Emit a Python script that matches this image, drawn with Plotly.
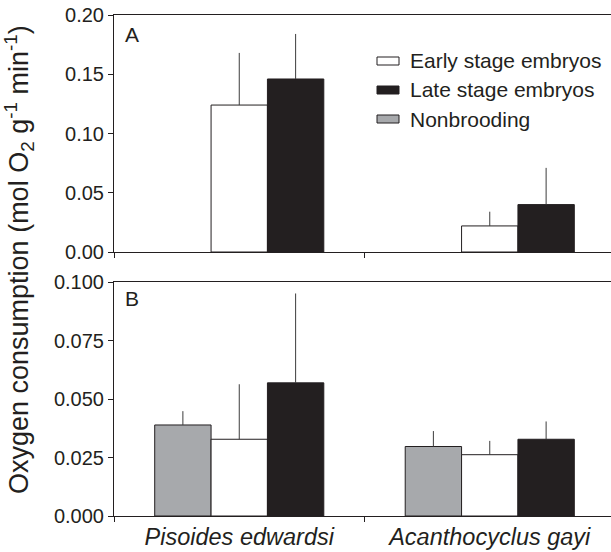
import plotly.graph_objects as go

species = ["Pisoides edwardsi", "Acanthocyclus gayi"]

# Panel A (brooding females)
a_early = [0.124, 0.022]
a_early_err = [0.044, 0.012]
a_late = [0.146, 0.040]
a_late_err = [0.038, 0.031]
a_nonbrood = [None, None]

# Panel B
b_nonbrood = [0.0389, 0.0297]
b_nonbrood_err = [0.0059, 0.0066]
b_early = [0.0328, 0.0262]
b_early_err = [0.0235, 0.0059]
b_late = [0.0569, 0.0328]
b_late_err = [0.0382, 0.0076]

legend_labels = ["Early stage embryos", "Late stage embryos", "Nonbrooding"]

INK = "#231f20"
GRAY = "#a7a9ac"
ERR = "#3c3c3c"
FONT = "Liberation Sans, Arial, Helvetica, sans-serif"

W, H = 611, 552
L, R, T, B = 114, 0, 15, 36
PW, PH = W - L - R, H - T - B


def px_x(p):
    return (p - L) / PW


def px_y(p):
    return (H - B - p) / PH


def err(vals):
    return dict(type="data", array=vals, arrayminus=[0] * len(vals), symmetric=False,
                color=ERR, thickness=1, width=0)


fig = go.Figure()
line = dict(color=INK, width=1)

# top panel
fig.add_trace(go.Bar(x=species, y=a_nonbrood, name="Nonbrooding", marker=dict(color=GRAY, line=line),
                     xaxis="x", yaxis="y", showlegend=False))
fig.add_trace(go.Bar(x=species, y=a_early, name="Early stage embryos", marker=dict(color="white", line=line),
                     error_y=err(a_early_err), xaxis="x", yaxis="y", showlegend=False))
fig.add_trace(go.Bar(x=species, y=a_late, name="Late stage embryos", marker=dict(color=INK, line=line),
                     error_y=err(a_late_err), xaxis="x", yaxis="y", showlegend=False))

# bottom panel
fig.add_trace(go.Bar(x=species, y=b_nonbrood, name="Nonbrooding", marker=dict(color=GRAY, line=line),
                     error_y=err(b_nonbrood_err), xaxis="x2", yaxis="y2", showlegend=False))
fig.add_trace(go.Bar(x=species, y=b_early, name="Early stage embryos", marker=dict(color="white", line=line),
                     error_y=err(b_early_err), xaxis="x2", yaxis="y2", showlegend=False))
fig.add_trace(go.Bar(x=species, y=b_late, name="Late stage embryos", marker=dict(color=INK, line=line),
                     error_y=err(b_late_err), xaxis="x2", yaxis="y2", showlegend=False))

xcommon = dict(range=[-0.5, 1.484], showline=True, linecolor=INK, linewidth=1, mirror=True,
               ticks="outside", tickson="boundaries", ticklen=5, tickcolor=INK,
               showgrid=False, zeroline=False)
ycommon = dict(showline=True, linecolor=INK, linewidth=1, ticks="outside", ticklen=5,
               tickcolor=INK, showgrid=False, zeroline=False,
               tickfont=dict(family=FONT, size=20, color=INK))

fig.update_layout(
    width=W, height=H,
    margin=dict(l=L, r=R, t=T, b=B),
    paper_bgcolor="white", plot_bgcolor="white",
    barmode="group", bargap=0.325, bargroupgap=0,
    font=dict(family=FONT, color=INK),
    showlegend=False,
    xaxis=dict(**xcommon, domain=[0, 1], anchor="y", showticklabels=False),
    yaxis=dict(**ycommon, domain=[px_y(252), 1.0], range=[0, 0.20],
               tickvals=[0, 0.05, 0.10, 0.15, 0.20], tickformat=".2f", anchor="x"),
    xaxis2=dict(**xcommon, domain=[0, 1], anchor="y2",
                tickfont=dict(family=FONT, size=23.5, color=INK),
                ticktext=["<i>" + s + "</i>" for s in species], tickvals=species),
    yaxis2=dict(**ycommon, domain=[0, px_y(282)], range=[0, 0.100],
                tickvals=[0, 0.025, 0.05, 0.075, 0.10], tickformat=".3f", anchor="x2"),
)

# custom legend (wide flat boxes like the reference)
legend_colors = ["white", INK, GRAY]
legend_rows = [61, 90, 119]
for lab, col, ry in zip(legend_labels, legend_colors, legend_rows):
    fig.add_shape(type="rect", xref="paper", yref="paper",
                  x0=px_x(377), x1=px_x(399), y0=px_y(ry + 4), y1=px_y(ry - 4),
                  fillcolor=col, line=dict(color=INK, width=1))
    fig.add_annotation(text=lab, xref="paper", yref="paper", x=px_x(408), y=px_y(ry),
                       xanchor="left", yanchor="middle", showarrow=False,
                       font=dict(family=FONT, size=21, color=INK))

# panel letters
fig.add_annotation(text="A", xref="paper", yref="paper", x=px_x(123), y=px_y(34),
                   xanchor="left", yanchor="middle", showarrow=False,
                   font=dict(family=FONT, size=21, color=INK))
fig.add_annotation(text="B", xref="paper", yref="paper", x=px_x(123), y=px_y(298),
                   xanchor="left", yanchor="middle", showarrow=False,
                   font=dict(family=FONT, size=21, color=INK))

# y-axis title
fig.add_annotation(text="Oxygen consumption (mol O<sub>2</sub> g<sup>-1</sup> min<sup>-1</sup>)",
                   xref="paper", yref="paper", x=px_x(19), y=px_y(260),
                   xanchor="center", yanchor="middle",
                   textangle=-90, showarrow=False, font=dict(family=FONT, size=27, color=INK))

fig.write_html("out.html")
